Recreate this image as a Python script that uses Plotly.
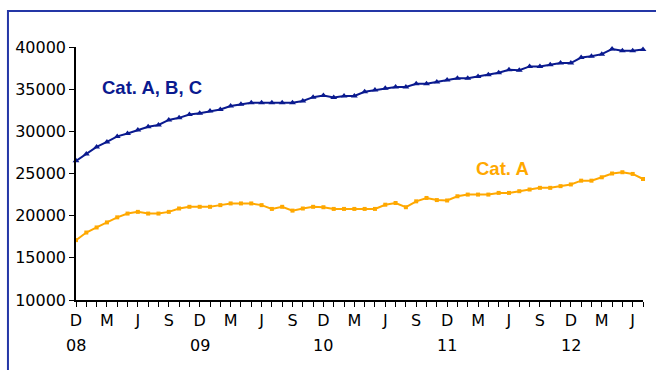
import plotly.graph_objects as go

# Monthly series, December 2008 through July 2012
cat_abc = [26500, 27300, 28150, 28750, 29400, 29750, 30150, 30550, 30750, 31350,
           31600, 32000, 32150, 32400, 32600, 33000, 33200, 33400, 33400, 33400,
           33400, 33400, 33600, 34050, 34250, 34000, 34200, 34200, 34700, 34900,
           35100, 35250, 35250, 35650, 35650, 35850, 36100, 36300, 36300, 36500,
           36700, 36950, 37300, 37250, 37700, 37700, 37900, 38100, 38100, 38750,
           38900, 39150, 39750, 39550, 39550, 39700]
cat_a = [17100, 18000, 18600, 19200, 19800, 20250, 20450, 20250, 20250, 20450,
         20850, 21050, 21050, 21050, 21250, 21450, 21450, 21450, 21250, 20800,
         21050, 20600, 20850, 21050, 21000, 20800, 20800, 20800, 20800, 20800,
         21300, 21500, 21000, 21700, 22100, 21850, 21800, 22300, 22500, 22500,
         22500, 22700, 22700, 22900, 23100, 23300, 23300, 23500, 23700, 24150,
         24150, 24550, 25000, 25150, 24950, 24350]
month_letters = ["D", "J", "F", "M", "A", "M", "J", "J", "A", "S", "O", "N"]
year_labels = ["08", "09", "10", "11", "12"]
y_ticks = [10000, 15000, 20000, 25000, 30000, 35000, 40000]

n = len(cat_abc)
idx = list(range(n))
tick_text = [month_letters[i % 12] if i % 3 == 0 else "" for i in idx]

NAVY = "#0a1a8f"
ORANGE = "#ffa800"
FONT = "DejaVu Sans"

fig = go.Figure()
fig.add_trace(go.Scatter(
    x=idx, y=cat_abc, mode="lines+markers",
    line=dict(color=NAVY, width=2),
    marker=dict(symbol="triangle-up", size=6, color=NAVY),
    showlegend=False, cliponaxis=False,
))
fig.add_trace(go.Scatter(
    x=idx, y=cat_a, mode="lines+markers",
    line=dict(color=ORANGE, width=2),
    marker=dict(symbol="square", size=4, color=ORANGE),
    showlegend=False, cliponaxis=False,
))

annotations = [
    dict(text="<b>Cat. A, B, C</b>", x=0.134, y=0.838, xref="paper", yref="paper",
         showarrow=False, xanchor="center", yanchor="middle",
         font=dict(family="Liberation Sans", size=18.5, color=NAVY)),
    dict(text="<b>Cat. A</b>", x=0.753, y=0.52, xref="paper", yref="paper",
         showarrow=False, xanchor="center", yanchor="middle",
         font=dict(family="Liberation Sans", size=18.5, color=ORANGE)),
]
for k, yl in enumerate(year_labels):
    annotations.append(dict(
        text=yl, x=k * 12, y=-0.18, xref="x", yref="paper",
        showarrow=False, xanchor="center", yanchor="middle",
        font=dict(family=FONT, size=16, color="black"),
    ))

fig.update_layout(
    width=656, height=370,
    margin=dict(l=76, r=13, t=47, b=70),
    paper_bgcolor="white", plot_bgcolor="white",
    annotations=annotations,
    shapes=[dict(type="rect", xref="paper", yref="paper",
                 x0=-0.12, x1=1.2, y0=-0.4, y1=1.1423,
                 line=dict(color="#2436a6", width=2))],
    xaxis=dict(
        range=[0, n - 1], tickmode="array", tickvals=idx, ticktext=tick_text,
        ticks="outside", ticklen=5, tickcolor="black", tickwidth=1,
        showline=True, linecolor="black", linewidth=1.5,
        showgrid=False, zeroline=False,
        tickfont=dict(family=FONT, size=16, color="black"),
    ),
    yaxis=dict(
        range=[10000, 40000], tickmode="array", tickvals=y_ticks,
        ticktext=[str(v) for v in y_ticks],
        ticks="outside", ticklen=5, tickcolor="black", tickwidth=1,
        showline=True, linecolor="black", linewidth=1.5,
        showgrid=False, zeroline=False,
        tickfont=dict(family=FONT, size=16, color="black"),
    ),
)

fig.write_html("out.html")
